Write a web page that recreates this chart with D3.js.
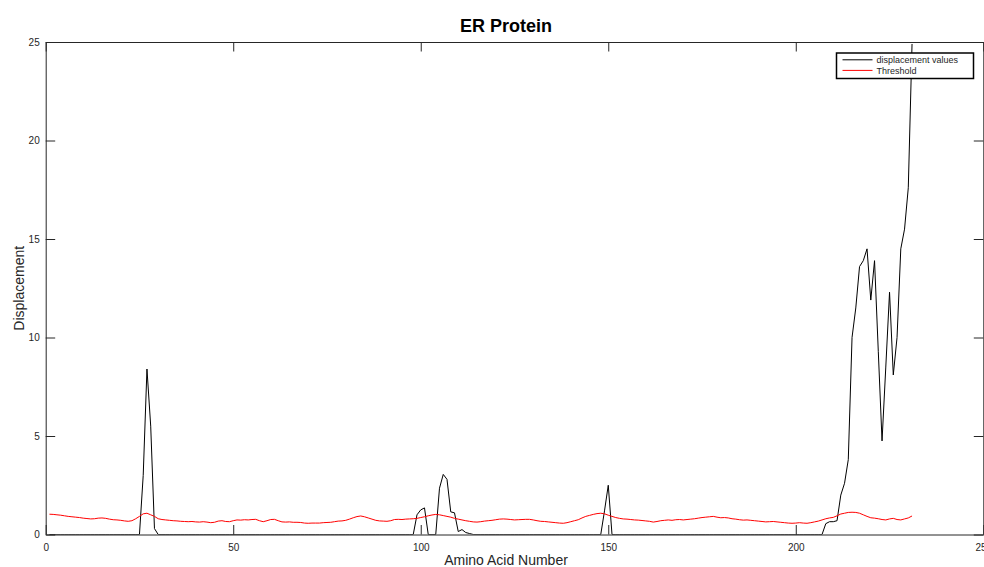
<!DOCTYPE html>
<html>
<head>
<meta charset="utf-8">
<script src="https://cdn.jsdelivr.net/npm/d3@7"></script>
<style>
  body { margin: 0; background: #fff; }
  svg { display: block; font-family: "Liberation Sans", Arial, sans-serif; }
</style>
</head>
<body>
<div id="chart"></div>
<script>
// amino acid index runs 1..231
const displacement = [
  0, 0, 0, 0, 0, 0, 0, 0, 0, 0,
  0, 0, 0, 0, 0, 0, 0, 0, 0, 0,
  0, 0, 0, 0, 0, 3.0, 8.4, 5.5, 0.3, 0,
  0, 0, 0, 0, 0, 0, 0, 0, 0, 0,
  0, 0, 0, 0, 0, 0, 0, 0, 0, 0,
  0, 0, 0, 0, 0, 0, 0, 0, 0, 0,
  0, 0, 0, 0, 0, 0, 0, 0, 0, 0,
  0, 0, 0, 0, 0, 0, 0, 0, 0, 0,
  0, 0, 0, 0, 0, 0, 0, 0, 0, 0,
  0, 0, 0, 0, 0, 0, 0, 0, 1.0, 1.25,
  1.35, 0, 0, 0, 2.35, 3.05, 2.8, 1.15, 1.1, 0.15,
  0.25, 0.1, 0.05, 0, 0, 0, 0, 0, 0, 0,
  0, 0, 0, 0, 0, 0, 0, 0, 0, 0,
  0, 0, 0, 0, 0, 0, 0, 0, 0, 0,
  0, 0, 0, 0, 0, 0, 0, 0, 1.2, 2.5,
  0, 0, 0, 0, 0, 0, 0, 0, 0, 0,
  0, 0, 0, 0, 0, 0, 0, 0, 0, 0,
  0, 0, 0, 0, 0, 0, 0, 0, 0, 0,
  0, 0, 0, 0, 0, 0, 0, 0, 0, 0,
  0, 0, 0, 0, 0, 0, 0, 0, 0, 0,
  0, 0, 0, 0, 0, 0, 0, 0.55, 0.65, 0.65,
  0.7, 2.0, 2.6, 3.8, 10.0, 11.5, 13.6, 13.9, 14.5, 11.9,
  13.9, 9.3, 4.75, 8.5, 12.3, 8.1, 10.0, 14.5, 15.5, 17.6,
  24.9
];

const threshold = [
  1.03, 1.02, 1.0, 0.98, 0.95, 0.92, 0.9, 0.88, 0.86, 0.83,
  0.81, 0.79, 0.8, 0.83, 0.84, 0.82, 0.78, 0.75, 0.74, 0.72,
  0.69, 0.67, 0.7, 0.8, 0.92, 1.05, 1.08, 1.0, 0.92, 0.8,
  0.76, 0.74, 0.72, 0.7, 0.69, 0.67, 0.66, 0.65, 0.66, 0.64,
  0.63, 0.65, 0.63, 0.6, 0.62, 0.68, 0.7, 0.66, 0.65, 0.7,
  0.74, 0.73, 0.75, 0.74, 0.76, 0.77, 0.7, 0.65, 0.7, 0.76,
  0.77, 0.7, 0.64, 0.63, 0.64, 0.62, 0.62, 0.61, 0.58, 0.57,
  0.58, 0.58, 0.58, 0.6, 0.61, 0.62, 0.65, 0.68, 0.69, 0.72,
  0.78, 0.85, 0.91, 0.94, 0.9, 0.84, 0.78, 0.72, 0.69, 0.68,
  0.67, 0.7, 0.76, 0.77, 0.76, 0.78, 0.79, 0.8, 0.82, 0.86,
  0.9, 0.95, 0.99, 1.02, 1.0, 0.96, 0.92, 0.88, 0.82, 0.78,
  0.74, 0.7, 0.67, 0.64, 0.63, 0.65, 0.68, 0.7, 0.72, 0.75,
  0.78, 0.79, 0.78, 0.76, 0.74, 0.75, 0.76, 0.77, 0.77, 0.74,
  0.7, 0.67, 0.66, 0.64, 0.62, 0.6, 0.58, 0.57, 0.6, 0.65,
  0.7, 0.75, 0.84, 0.92, 0.97, 1.02, 1.06, 1.08, 1.05, 0.98,
  0.92, 0.86, 0.82, 0.79, 0.78, 0.76, 0.74, 0.73, 0.71, 0.69,
  0.67, 0.63, 0.66, 0.7, 0.72, 0.74, 0.72, 0.75, 0.76, 0.74,
  0.76, 0.78, 0.8, 0.83, 0.86, 0.88, 0.9, 0.92, 0.88, 0.85,
  0.86, 0.84, 0.8, 0.78, 0.75, 0.73, 0.74, 0.72, 0.7, 0.68,
  0.66, 0.64, 0.65, 0.66, 0.64, 0.62, 0.6, 0.58, 0.57, 0.58,
  0.6, 0.58, 0.57, 0.6, 0.64, 0.68, 0.74, 0.8, 0.84, 0.87,
  0.95, 1.04, 1.08, 1.12, 1.13, 1.12, 1.08, 1.0, 0.92, 0.85,
  0.83, 0.8, 0.76, 0.74, 0.79, 0.82, 0.76, 0.74, 0.79, 0.84,
  0.94
];

const xTicks = [0, 50, 100, 150, 200, 250];
const yTicks = [0, 5, 10, 15, 20, 25];
const legendLabels = ["displacement values", "Threshold"];
const seriesColors = ["#000000", "#ff0000"];

const W = 984, H = 567;
const margin = { left: 45.7, right: 0.7, top: 42, bottom: 32.5 };

const svg = d3.select("#chart").append("svg")
  .attr("width", W)
  .attr("height", H);

const x = d3.scaleLinear().domain([0, 250]).range([margin.left, W - margin.right]);
const y = d3.scaleLinear().domain([0, 25]).range([H - margin.bottom, margin.top]);

svg.append("defs").append("clipPath").attr("id", "plot-clip")
  .append("rect")
  .attr("x", x(0)).attr("y", y(25))
  .attr("width", x(250) - x(0)).attr("height", y(0) - y(25));

const tickLen = 9.5;
const axisColor = "#262626";

// axes (ticks inside like matlab)
const xAxis = svg.append("g")
  .attr("transform", `translate(0,${y(0)})`)
  .call(d3.axisBottom(x).tickValues(xTicks).tickSizeInner(-tickLen).tickSizeOuter(0).tickPadding(9));
const xAxisTop = svg.append("g")
  .attr("transform", `translate(0,${y(25)})`)
  .call(d3.axisTop(x).tickValues(xTicks).tickSizeInner(-tickLen).tickSizeOuter(0).tickFormat(""));
const yAxis = svg.append("g")
  .attr("transform", `translate(${x(0)},0)`)
  .call(d3.axisLeft(y).tickValues(yTicks).tickSizeInner(-tickLen).tickSizeOuter(0).tickPadding(6));
const yAxisRight = svg.append("g")
  .attr("transform", `translate(${x(250)},0)`)
  .call(d3.axisRight(y).tickValues(yTicks).tickSizeInner(-tickLen).tickSizeOuter(0).tickFormat(""));

for (let g of [xAxis, xAxisTop, yAxis, yAxisRight]) {
  g.selectAll(".domain").attr("stroke", axisColor).attr("stroke-width", 1);
  g.selectAll(".tick line").attr("stroke", axisColor).attr("stroke-width", 1);
  g.selectAll(".tick text")
    .attr("fill", "#262626")
    .style("font-size", "10px")
    .style("font-family", "'Liberation Sans', Arial, sans-serif");
}

const line = d3.line()
  .x((d, i) => x(i + 1))
  .y(d => y(d));

const plot = svg.append("g").attr("clip-path", "url(#plot-clip)");

plot.append("path")
  .datum(displacement)
  .attr("fill", "none")
  .attr("stroke", seriesColors[0])
  .attr("stroke-width", 1)
  .attr("d", line);

plot.append("path")
  .datum(threshold)
  .attr("fill", "none")
  .attr("stroke", seriesColors[1])
  .attr("stroke-width", 1)
  .attr("d", line);

// titles
svg.append("text")
  .attr("x", 506).attr("y", 32)
  .attr("text-anchor", "middle")
  .style("font-size", "18px")
  .style("font-weight", "bold")
  .attr("fill", "#000")
  .text("ER Protein");

svg.append("text")
  .attr("x", 506).attr("y", 565)
  .attr("text-anchor", "middle")
  .style("font-size", "14px")
  .attr("fill", "#262626")
  .text("Amino Acid Number");

svg.append("text")
  .attr("transform", `translate(24,${(y(0) + y(25)) / 2}) rotate(-90)`)
  .attr("text-anchor", "middle")
  .style("font-size", "14px")
  .attr("fill", "#262626")
  .text("Displacement");

// legend
const legend = svg.append("g").attr("transform", "translate(836.5,53)");
legend.append("rect")
  .attr("width", 137).attr("height", 25.5)
  .attr("fill", "#fff")
  .attr("stroke", "#000")
  .attr("stroke-width", 1.5);

legendLabels.forEach((label, i) => {
  const ly = 6.8 + i * 10.6;
  legend.append("line")
    .attr("x1", 6).attr("x2", 36)
    .attr("y1", ly).attr("y2", ly)
    .attr("stroke", seriesColors[i])
    .attr("stroke-width", 1);
  legend.append("text")
    .attr("x", 40).attr("y", ly + 3.2)
    .style("font-size", "9px")
    .attr("fill", "#262626")
    .text(label);
});
</script>
</body>
</html>
